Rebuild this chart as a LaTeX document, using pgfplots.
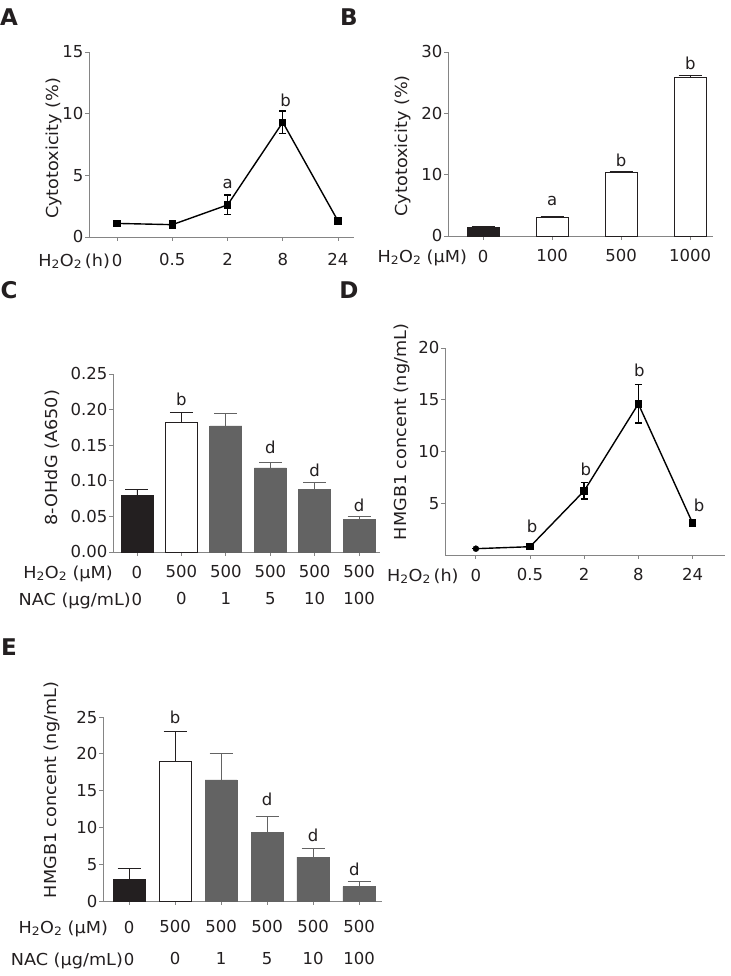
\documentclass[border=0pt]{standalone}
\usepackage{pgfplots}
\pgfplotsset{compat=1.18}
\usepackage{fontspec}
\setmainfont{DejaVu Sans}
\newfontfamily\wide[FakeStretch=1.07]{DejaVu Sans}
\definecolor{txt}{HTML}{231F20}
\definecolor{axc}{HTML}{858585}
\definecolor{barblack}{HTML}{231F20}
\definecolor{bargray}{HTML}{636363}
\newcommand{\fs}{\fontsize{16.5}{19}\selectfont}
\newcommand{\wl}{\wide\fontsize{16.5}{19}\selectfont}
\pgfplotsset{
  panel/.style={
    scale only axis,
    axis x line=bottom, axis y line=left,
    axis line style={axc, line width=0.9pt, -},
    tick align=outside,
    major tick length=4pt,
    tick style={axc, line width=0.9pt},
    tick label style={font=\fs, text=txt},
    yticklabel style={inner sep=1.5pt},
    xticklabel style={yshift=-6pt},
    /pgf/number format/assume math mode=true,
    clip=false,
    ymin=0,
  },
  linep/.style={black, line width=1.4pt, mark=square*, mark size=3pt, mark options={solid, fill=black},
    error bars/.cd, y dir=both, y explicit,
    error bar style={black, line width=1.4pt},
    error mark options={rotate=90, black, mark size=3.5pt, line width=1.4pt}, /pgfplots/.cd},
  barp/.style={ybar, bar shift=0pt, fill=#1, draw=#1, line width=0.8pt,
    error bars/.cd, y dir=plus, y explicit,
    error bar style={#1, line width=0.9pt},
    error mark options={rotate=90, #1, mark size=11.5pt, line width=0.9pt}, /pgfplots/.cd},
}
\newcommand{\HH}{{\wide H\textsubscript{2}O\textsubscript{2}}}
\begin{document}
\begin{tikzpicture}
\useasboundingbox (0pt,0pt) rectangle (730pt,976pt);
% panel letters
\node[font=\fontsize{23}{23}\selectfont\bfseries, text=txt] at (9pt,959pt) {A};
\node[font=\fontsize{23}{23}\selectfont\bfseries, text=txt] at (349pt,959pt) {B};
\node[font=\fontsize{23}{23}\selectfont\bfseries, text=txt] at (9pt,686pt) {C};
\node[font=\fontsize{23}{23}\selectfont\bfseries, text=txt] at (349pt,686pt) {D};
\node[font=\fontsize{23}{23}\selectfont\bfseries, text=txt] at (9pt,329pt) {E};

% ---------- A ----------
\begin{axis}[panel, at={(89pt,739pt)}, anchor=south west, width=265pt, height=185pt,
  xmin=-0.51, xmax=4.29, ymax=15,
  xtick={0,1,2,3,4}, xticklabels={{\llap{\HH\,{\wide(h)}\hspace{2pt}}0},0.5,2,8,24},
  xticklabel style={yshift=-3pt},
  ytick={0,5,10,15},
  ylabel={\wl Cytotoxicity (\%)},
  ylabel style={at={(axis description cs:-0.132,0.48)}, anchor=center, text=txt}]
\addplot[linep] coordinates {(0,1.1) +- (0,0.2) (1,1.0) +- (0,0.3) (2,2.6) +- (0,0.8) (3,9.3) +- (0,0.9) (4,1.3) +- (0,0.1)};
\node[text=txt, font=\fs] at (axis cs:2,4.3) {a};
\node[text=txt, font=\fs] at (axis cs:3.05,11.1) {b};
\end{axis}

% ---------- B ----------
\begin{axis}[panel, at={(448pt,740pt)}, anchor=south west, width=265pt, height=184pt,
  xmin=-0.51, xmax=3.33, ymax=30,
  xtick={0,1,2,3}, xticklabels={{\llap{\HH\ {\wide(μM)}\hspace{11pt}}0},100,500,1000},
  ytick={0,10,20,30},
  ylabel={\wl Cytotoxicity (\%)},
  ylabel style={at={(axis description cs:-0.17,0.49)}, anchor=center, text=txt}]
\addplot[barp=barblack, bar width=0.46] coordinates {(0,1.35) +- (0,0.15)};
\addplot[barp=txt, fill=white, bar width=0.46] coordinates {(1,3.1) +- (0,0.15) (2,10.4) +- (0,0.15) (3,25.9) +- (0,0.35)};
\node[text=txt, font=\fs] at (axis cs:1,5.7) {a};
\node[text=txt, font=\fs] at (axis cs:2,12.3) {b};
\node[text=txt, font=\fs] at (axis cs:3,28.2) {b};
\end{axis}

% ---------- C ----------
\begin{axis}[panel, at={(113pt,424pt)}, anchor=south west, width=267pt, height=178pt,
  xmin=-0.54, xmax=5.47, ymax=0.25,
  xtick={0,1,2,3,4,5},
  xticklabels={{\llap{\HH\ {\wide(μM)}\hspace{19pt}}0\\\llap{{\wide NAC (μg/mL)}\hspace{1pt}}0},{500\\0},{500\\1},{500\\5},{500\\10},{500\\100}},
  xticklabel style={align=center, font=\fontsize{16.5}{27}\selectfont},
  ytick={0,0.05,0.10,0.15,0.20,0.25},
  yticklabel style={/pgf/number format/.cd, fixed, fixed zerofill, precision=2},
  ylabel={\wl 8-OHdG (A650)},
  ylabel style={at={(axis description cs:-0.228,0.53)}, anchor=center, text=txt}]
\addplot[barp=barblack, bar width=0.72] coordinates {(0,0.079) +- (0,0.009)};
\addplot[barp=txt, fill=white, bar width=0.72] coordinates {(1,0.182) +- (0,0.014)};
\addplot[barp=bargray, bar width=0.72] coordinates {(2,0.177) +- (0,0.017) (3,0.118) +- (0,0.008) (4,0.088) +- (0,0.009) (5,0.046) +- (0,0.004)};
\node[text=txt, font=\fs] at (axis cs:1,0.215) {b};
\node[text=txt, font=\fs] at (axis cs:3,0.147) {d};
\node[text=txt, font=\fs] at (axis cs:4,0.115) {d};
\node[text=txt, font=\fs] at (axis cs:5,0.066) {d};
\end{axis}

% ---------- D ----------
\begin{axis}[panel, at={(445pt,421pt)}, anchor=south west, width=280pt, height=207pt,
  xmin=-0.57, xmax=4.6, ymax=20,
  xtick={0,1,2,3,4}, xticklabels={{\llap{\HH\,{\wide(h)}\hspace{12pt}}0},0.5,2,8,24},
  ytick={5,10,15,20},
  ylabel={\wl HMGB1 concent (ng/mL)},
  ylabel style={at={(axis description cs:-0.154,0.594)}, anchor=center, text=txt}]
\addplot[linep, mark indices={2,3,4,5}] coordinates {(0,0.61) +- (0,0) (1,0.8) +- (0,0.15) (2,6.2) +- (0,0.8) (3,14.6) +- (0,1.85) (4,3.1) +- (0,0.1)};
\addplot[black, mark=*, mark size=3pt, only marks] coordinates {(0,0.61)};
\node[text=txt, font=\fs] at (axis cs:1.04,2.74) {b};
\node[text=txt, font=\fs] at (axis cs:2.03,8.3) {b};
\node[text=txt, font=\fs] at (axis cs:3.02,17.8) {b};
\node[text=txt, font=\fs] at (axis cs:4.12,4.8) {b};
\end{axis}

% ---------- E ----------
\begin{axis}[panel, at={(103pt,75pt)}, anchor=south west, width=279pt, height=184pt,
  xmin=-0.57, xmax=5.5, ymax=25,
  xtick={0,1,2,3,4,5},
  xticklabels={{\llap{\HH\ {\wide(μM)}\hspace{16pt}}0\\\llap{{\wide NAC (μg/mL)}\hspace{1pt}}0},{500\\0},{500\\1},{500\\5},{500\\10},{500\\100}},
  xticklabel style={align=center, font=\fontsize{16.5}{32}\selectfont, yshift=-6pt},
  ytick={0,5,10,15,20,25},
  ylabel={\wl HMGB1 concent (ng/mL)},
  ylabel style={at={(axis description cs:-0.183,0.603)}, anchor=center, text=txt}]
\addplot[barp=barblack, bar width=0.70] coordinates {(0,3.0) +- (0,1.4)};
\addplot[barp=txt, fill=white, bar width=0.70] coordinates {(1,18.95) +- (0,4.05)};
\addplot[barp=bargray, bar width=0.70] coordinates {(2,16.45) +- (0,3.55) (3,9.36) +- (0,2.15) (4,5.95) +- (0,1.25) (5,1.95) +- (0,0.65)};
\node[text=txt, font=\fs] at (axis cs:1,25.0) {b};
\node[text=txt, font=\fs] at (axis cs:3,13.8) {d};
\node[text=txt, font=\fs] at (axis cs:4,8.9) {d};
\node[text=txt, font=\fs] at (axis cs:4.9,4.3) {d};
\end{axis}
\end{tikzpicture}
\end{document}
